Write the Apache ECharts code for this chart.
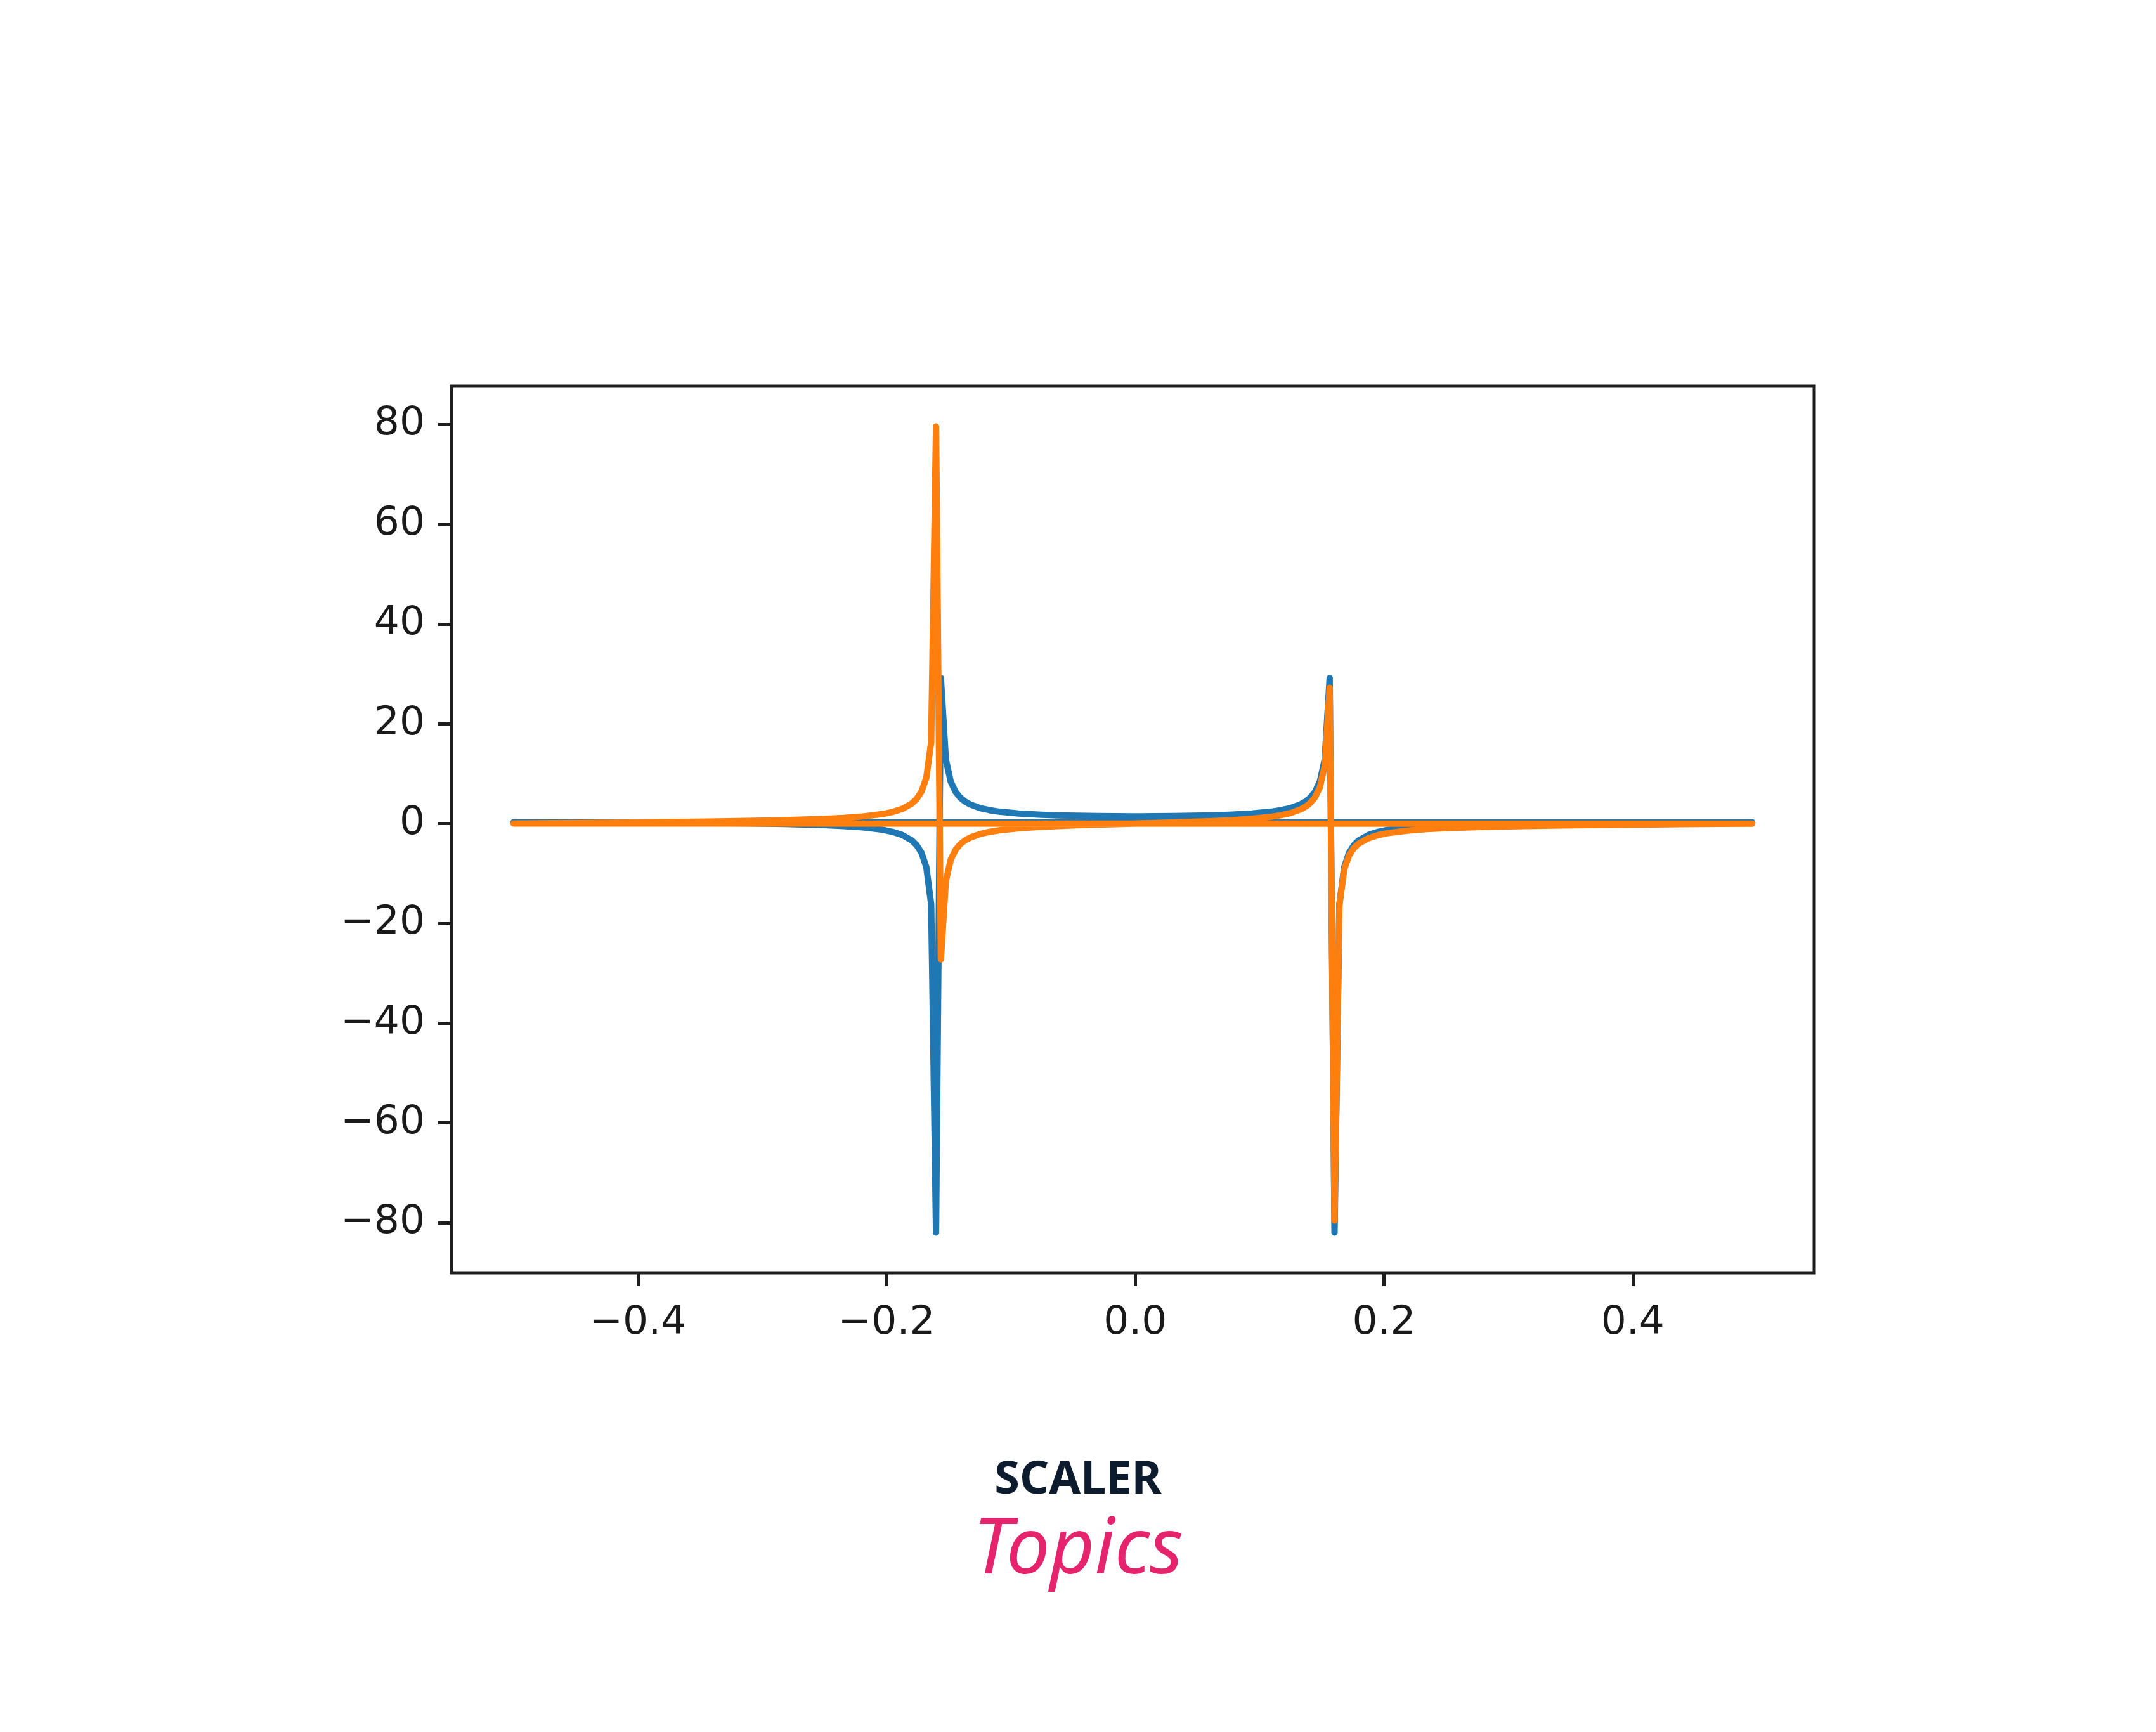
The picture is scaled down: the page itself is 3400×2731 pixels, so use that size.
<!DOCTYPE html>
<html>
<head>
<meta charset="utf-8">
<script src="https://cdn.jsdelivr.net/npm/echarts@6/dist/echarts.min.js"></script>
<style>
html,body{margin:0;padding:0;background:#fff;}
#chart{width:3400px;height:2731px;}
</style>
</head>
<body>
<div id="chart"></div>
<script>
// Frequencies in plotting order (0 .. 0.496, then -0.5 .. -0.004)
const freq = [0, 0.0039, 0.0156, 0.0313, 0.0469, 0.0625, 0.0781, 0.0938, 0.1094, 0.1172, 0.125, 0.1328, 0.1367, 0.1406, 0.1445, 0.1484, 0.1523, 0.1563, 0.1602, 0.1641, 0.168, 0.1719, 0.1758, 0.1797, 0.1875, 0.1953, 0.2031, 0.2188, 0.2344, 0.25, 0.2813, 0.3125, 0.3438, 0.375, 0.4063, 0.4375, 0.4688, 0.4961,
  -0.5,
  -0.4961, -0.4688, -0.4375, -0.4063, -0.375, -0.3438, -0.3125, -0.2813, -0.25, -0.2344, -0.2188, -0.2031, -0.1953, -0.1875, -0.1797, -0.1758, -0.1719, -0.168, -0.1641, -0.1602, -0.1563, -0.1523, -0.1484, -0.1445, -0.1406, -0.1367, -0.1328, -0.125, -0.1172, -0.1094, -0.0938, -0.0781, -0.0625, -0.0469, -0.0313, -0.0156, -0.0039];

const realPart = [1.45, 1.45, 1.46, 1.49, 1.55, 1.64, 1.78, 2.00, 2.38, 2.68, 3.12, 3.83, 4.38, 5.15, 6.34, 8.40, 12.82, 29.16, -81.96, -16.20, -8.73, -5.85, -4.33, -3.38, -2.28, -1.65, -1.25, -0.77, -0.49, -0.31, -0.10, 0.03, 0.10, 0.15, 0.18, 0.20, 0.21, 0.22,
  0.22,
  0.22, 0.21, 0.20, 0.18, 0.15, 0.10, 0.03, -0.10, -0.31, -0.49, -0.77, -1.25, -1.65, -2.28, -3.38, -4.33, -5.85, -8.73, -16.20, -81.96, 29.16, 12.82, 8.40, 6.34, 5.15, 4.38, 3.83, 3.12, 2.68, 2.38, 2.00, 1.78, 1.64, 1.55, 1.49, 1.46, 1.45];

const imagPart = [0, 0.03, 0.11, 0.22, 0.35, 0.50, 0.69, 0.95, 1.36, 1.67, 2.12, 2.82, 3.35, 4.11, 5.26, 7.24, 11.50, 27.21, -79.56, -16.36, -9.17, -6.40, -4.92, -4.01, -2.93, -2.31, -1.91, -1.42, -1.12, -0.93, -0.67, -0.50, -0.38, -0.28, -0.20, -0.13, -0.06, -0.01,
  0,
  0.01, 0.06, 0.13, 0.20, 0.28, 0.38, 0.50, 0.67, 0.93, 1.12, 1.42, 1.91, 2.31, 2.93, 4.01, 4.92, 6.40, 9.17, 16.36, 79.56, -27.21, -11.50, -7.24, -5.26, -4.11, -3.35, -2.82, -2.12, -1.67, -1.36, -0.95, -0.69, -0.50, -0.35, -0.22, -0.11, -0.03];

const xTicks = [-0.4, -0.2, 0.0, 0.2, 0.4];
const yTicks = [-80, -60, -40, -20, 0, 20, 40, 60, 80];

const MINUS = '\u2212';
function fmtX(v){ const s = Math.abs(v).toFixed(1); return (v < -1e-9 ? MINUS : '') + s; }
function fmtY(v){ const r = Math.round(v); return (r < 0 ? MINUS : '') + Math.abs(r); }

const chart = echarts.init(document.getElementById('chart'), null, {renderer: 'canvas'});
const axisColor = '#1e1e1e';
const labelFont = {fontFamily: 'DejaVu Sans', fontSize: 63, color: '#1a1a1a'};

chart.setOption({
  backgroundColor: '#ffffff',
  animation: false,
  grid: {left: 712, right: 539, top: 609, bottom: 724, show: true, borderColor: axisColor, borderWidth: 5, backgroundColor: 'transparent'},
  xAxis: {
    type: 'value', min: -0.5498, max: 0.5459, position: 'bottom',
    axisLine: {show: false, onZero: false},
    splitLine: {show: false},
    axisTick: {show: true, inside: false, length: 21, lineStyle: {color: axisColor, width: 5}, customValues: xTicks},
    axisLabel: Object.assign({show: true, margin: 48, formatter: fmtX, customValues: xTicks}, labelFont)
  },
  yAxis: {
    type: 'value', min: -90.04, max: 87.64, position: 'left',
    axisLine: {show: false, onZero: false},
    splitLine: {show: false},
    axisTick: {show: true, inside: false, length: 21, lineStyle: {color: axisColor, width: 5}, customValues: yTicks},
    axisLabel: Object.assign({show: true, margin: 42, formatter: fmtY, customValues: yTicks}, labelFont)
  },
  series: [
    {type: 'line', name: 'real', data: freq.map((x, i) => [x, realPart[i]]), showSymbol: false, symbol: 'none',
     lineStyle: {color: '#1f77b4', width: 10, join: 'round', cap: 'square'}, itemStyle: {color: '#1f77b4'}, z: 2},
    {type: 'line', name: 'imag', data: freq.map((x, i) => [x, imagPart[i]]), showSymbol: false, symbol: 'none',
     lineStyle: {color: '#ff7f0e', width: 10, join: 'round', cap: 'square'}, itemStyle: {color: '#ff7f0e'}, z: 3}
  ],
  graphic: [
    {type: 'text', left: 'center', top: 2298, style: {text: 'SCALER', fontFamily: 'Noto Sans', fontWeight: 'bold', fontSize: 72, fill: '#0d1b2e'}},
    {type: 'text', left: 'center', top: 2385, style: {text: 'Topics', fontFamily: 'Noto Sans', fontStyle: 'italic', fontSize: 122, fill: '#e6246e'}}
  ]
});
</script>
</body>
</html>
